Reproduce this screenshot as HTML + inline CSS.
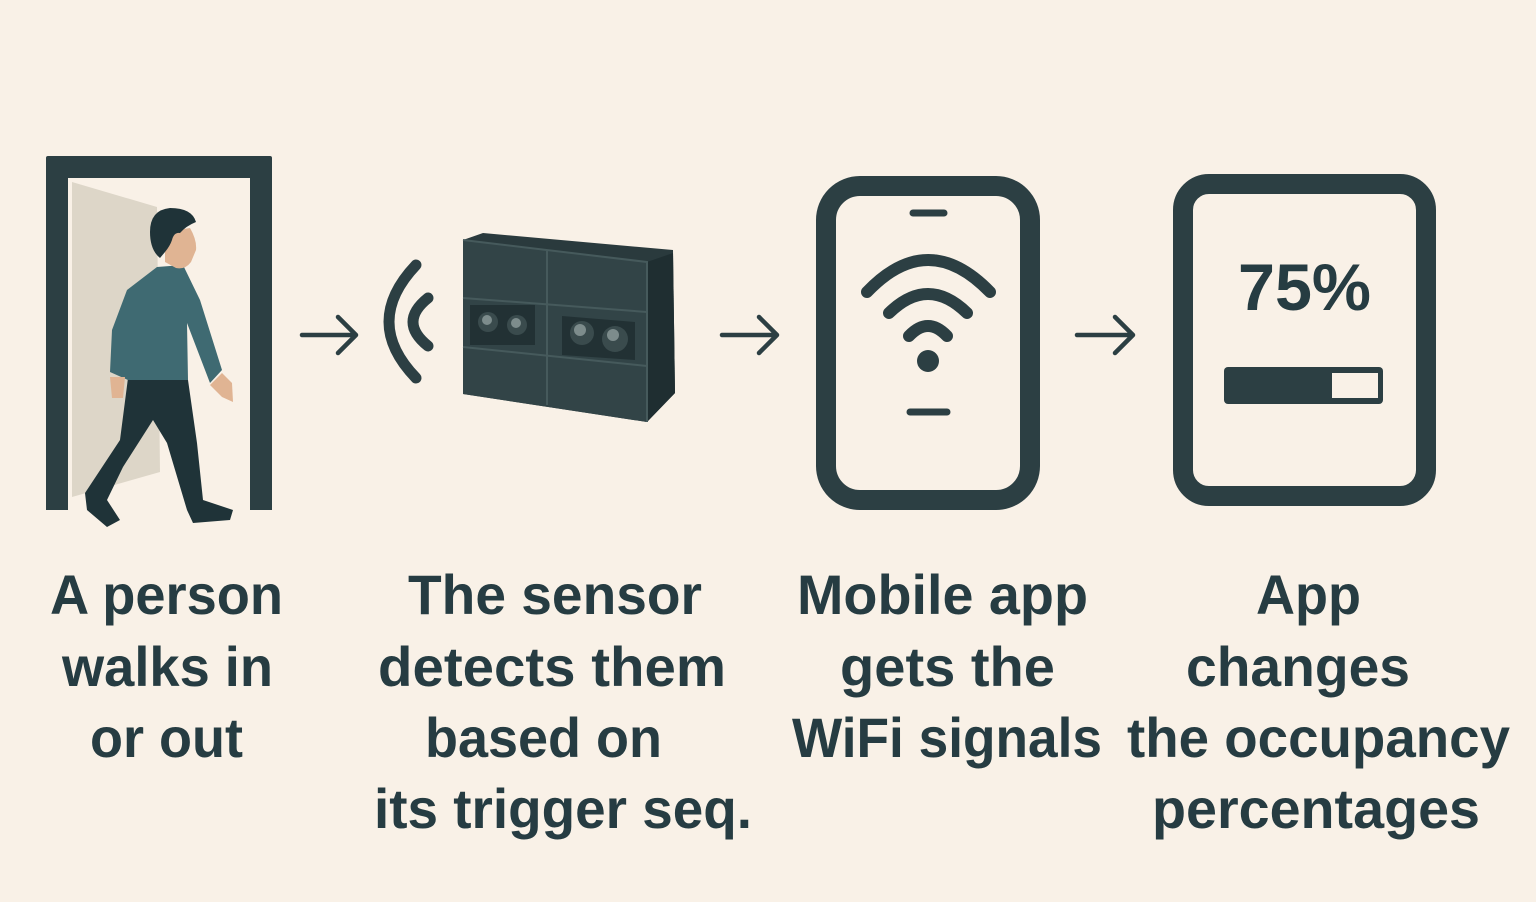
<!DOCTYPE html>
<html><head><meta charset="utf-8"><style>
html,body{margin:0;padding:0;background:#f9f1e7;}
svg{display:block;}
text{font-family:"Liberation Sans",sans-serif;font-weight:bold;fill:#263c42;}
</style></head><body>
<svg width="1536" height="902" viewBox="0 0 1536 902" xmlns="http://www.w3.org/2000/svg">
<rect width="1536" height="902" fill="#f9f1e7"/>
<!-- Door -->
<polygon points="72,182 157,207 160,472 72,497" fill="#ddd6c8"/>
<path d="M46,510 V158 Q46,156 48,156 H270 Q272,156 272,158 V510 H250 V178 H68 V510 Z" fill="#2c3f43"/>
<!-- Person -->
<polygon points="128,378 188,380 197,443 203,500 233,510 230,520 193,523 187,510 167,443 153,420 123,467 107,500 120,520 107,527 87,510 85,493 120,440" fill="#1f3338"/>
<polygon points="157,267 183,265 200,300 222,370 210,383 187,323 188,380 128,380 110,372 112,330 127,290" fill="#3f6a72"/>
<polygon points="222,373 232,383 233,402 222,397 210,385" fill="#e0b493"/>
<polygon points="110,377 125,377 123,398 112,398" fill="#e0b493"/>
<path d="M165,232 L190,228 Q197,240 196,250 L191,262 Q185,270 176,268 L165,262 Z" fill="#e0b493"/>
<path d="M150,232 Q150,210 170,208 Q192,208 196,222 Q186,226 180,233 Q174,232 172,240 Q170,246 165,252 L160,258 Q150,250 150,232 Z" fill="#1f3338"/>
<!-- Arrows -->
<g stroke="#2c3f43" stroke-width="4.5" fill="none" stroke-linecap="round" stroke-linejoin="round">
<path d="M302,335 H355 M338,317 L356,335 L338,353"/>
<path d="M722,335 H776 M759,317 L777,335 L759,353"/>
<path d="M1077,335 H1132 M1115,317 L1133,335 L1115,353"/>
</g>
<!-- signal arcs -->
<g stroke="#2c3f43" stroke-width="11" fill="none" stroke-linecap="round">
<path d="M416,265 Q362,322 416,378"/>
<path d="M428,298 Q398,322 428,346"/>
</g>
<!-- Sensor -->
<polygon points="463,240 483,233 673,250 675,393 647,422 463,394" fill="#2a3a3d"/>
<polygon points="647,262 673,253 675,393 647,422" fill="#1f2e31"/>
<polygon points="463,240 647,262 647,422 463,394" fill="#324447"/>
<g stroke="#465a5c" stroke-width="2" fill="none">
<path d="M547,251 V405"/>
<path d="M463,298 L647,312 M463,347 L647,366"/>
<path d="M463,240 L647,262 L647,422"/>
</g>
<rect x="470" y="305" width="65" height="40" fill="#223134"/>
<polygon points="562,316 635,322 635,360 562,355" fill="#223134"/>
<circle cx="488" cy="322" r="10" fill="#3a4b4d"/><circle cx="487" cy="320" r="5" fill="#7d8c8c"/>
<circle cx="517" cy="325" r="10" fill="#3a4b4d"/><circle cx="516" cy="323" r="5" fill="#7d8c8c"/>
<circle cx="582" cy="333" r="12" fill="#3a4b4d"/><circle cx="580" cy="330" r="6" fill="#7d8c8c"/>
<circle cx="615" cy="339" r="13" fill="#3a4b4d"/><circle cx="613" cy="335" r="6" fill="#7d8c8c"/>
<!-- Phone -->
<rect x="826" y="186" width="204" height="314" rx="34" fill="none" stroke="#2c3f43" stroke-width="20"/>
<g stroke="#2c3f43" stroke-linecap="round" fill="none">
<path d="M913,213 H944" stroke-width="7"/>
<path d="M910,412 H947" stroke-width="7"/>
<path d="M867,292 Q928,228 990,292" stroke-width="12"/>
<path d="M889,313 Q928,275 967,313" stroke-width="12"/>
<path d="M909,336 Q928,316 947,336" stroke-width="12"/>
</g>
<ellipse cx="928" cy="361" rx="11" ry="11" fill="#2c3f43"/>
<!-- Tablet -->
<rect x="1183" y="184" width="243" height="312" rx="26" fill="none" stroke="#2c3f43" stroke-width="20"/>
<text x="1238" y="310" font-size="66" textLength="133" lengthAdjust="spacingAndGlyphs">75%</text>
<rect x="1224" y="367" width="159" height="37" rx="4" fill="#2c3f43"/>
<rect x="1332" y="373" width="46" height="25" fill="#f9f1e7"/>
<!-- Labels -->
<g font-size="56" text-anchor="start">
<text x="50" y="614" textLength="233" lengthAdjust="spacingAndGlyphs">A person</text>
<text x="62" y="686" textLength="211" lengthAdjust="spacingAndGlyphs">walks in</text>
<text x="90" y="757" textLength="153" lengthAdjust="spacingAndGlyphs">or out</text>
<text x="408" y="614" textLength="294" lengthAdjust="spacingAndGlyphs">The sensor</text>
<text x="378" y="686" textLength="348" lengthAdjust="spacingAndGlyphs">detects them</text>
<text x="425" y="757" textLength="237" lengthAdjust="spacingAndGlyphs">based on</text>
<text x="374" y="828" textLength="378" lengthAdjust="spacingAndGlyphs">its trigger seq.</text>
<text x="797" y="614" textLength="291" lengthAdjust="spacingAndGlyphs">Mobile app</text>
<text x="840" y="686" textLength="215" lengthAdjust="spacingAndGlyphs">gets the</text>
<text x="792" y="757" textLength="310" lengthAdjust="spacingAndGlyphs">WiFi signals</text>
<text x="1256" y="614" textLength="105" lengthAdjust="spacingAndGlyphs">App</text>
<text x="1186" y="686" textLength="224" lengthAdjust="spacingAndGlyphs">changes</text>
<text x="1127" y="757" textLength="383" lengthAdjust="spacingAndGlyphs">the occupancy</text>
<text x="1152" y="828" textLength="328" lengthAdjust="spacingAndGlyphs">percentages</text>
</g>
</svg>
</body></html>
